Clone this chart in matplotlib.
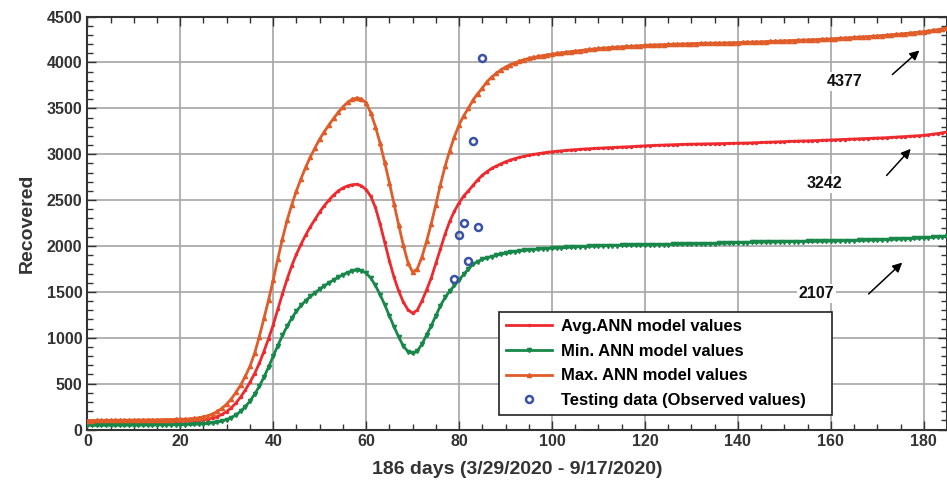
# Recovered cases: ANN model envelopes (min / avg / max) vs testing data
# 186 days, 3/29/2020 - 9/17/2020

import numpy as np
import matplotlib.pyplot as plt
from matplotlib.ticker import MultipleLocator

plt.rcParams["font.family"] = ["Liberation Sans", "DejaVu Sans"]
plt.rcParams["font.weight"] = "bold"

# Data ........................................................................

days = np.arange(186)

avg_values = [
    78, 78, 78, 79, 79, 79, 80, 80, 80, 81, 81, 82, 82, 83, 83, 84, 85, 86, 87, 88,
    89, 91, 93, 96, 100, 106, 114, 126, 142, 165, 196, 238, 290, 355, 430, 515, 610, 720, 850, 990,
    1140, 1310, 1480, 1640, 1785, 1910, 2020, 2120, 2210, 2290, 2370, 2440, 2500, 2555, 2600, 2632, 2655, 2668, 2672, 2655,
    2615, 2540, 2420, 2240, 2040, 1840, 1660, 1510, 1390, 1305, 1268, 1300, 1400, 1520, 1650, 1810, 1970, 2130, 2270, 2380,
    2470, 2545, 2600, 2660, 2720, 2770, 2810, 2845, 2870, 2895, 2918, 2936, 2952, 2966, 2978, 2989, 2998, 3006, 3014, 3021,
    3027, 3032, 3037, 3042, 3046, 3050, 3054, 3057, 3060, 3063, 3066, 3069, 3071, 3073, 3076, 3078, 3080, 3083, 3086, 3089,
    3092, 3094, 3096, 3098, 3100, 3102, 3104, 3105, 3107, 3108, 3110, 3111, 3112, 3113, 3114, 3115, 3116, 3116, 3117, 3117,
    3118, 3120, 3122, 3124, 3126, 3128, 3130, 3132, 3134, 3136, 3138, 3140, 3141, 3143, 3144, 3146, 3147, 3149, 3150, 3152,
    3154, 3156, 3158, 3160, 3162, 3164, 3166, 3168, 3170, 3172, 3174, 3177, 3180, 3183, 3186, 3189, 3192, 3195, 3198, 3202,
    3206, 3212, 3218, 3225, 3233, 3242,
]

min_values = [
    45, 45, 45, 45, 46, 46, 46, 46, 47, 47, 47, 48, 48, 48, 49, 49, 50, 50, 51, 52,
    53, 54, 55, 57, 59, 62, 66, 72, 80, 92, 108, 130, 160, 200, 250, 310, 385, 470, 570, 680,
    800, 915, 1025, 1125, 1215, 1290, 1352, 1405, 1450, 1490, 1530, 1565, 1600, 1630, 1660, 1685, 1710, 1728, 1738, 1730,
    1705, 1650, 1570, 1470, 1360, 1240, 1120, 1010, 910, 850, 830, 855, 930, 1030, 1130, 1240, 1350, 1440, 1510, 1570,
    1630, 1690, 1750, 1800, 1830, 1855, 1870, 1885, 1898, 1910, 1920, 1930, 1938, 1945, 1951, 1956, 1961, 1965, 1969, 1972,
    1975, 1978, 1981, 1984, 1987, 1990, 1992, 1994, 1996, 1998, 2000, 2002, 2003, 2004, 2005, 2006, 2007, 2008, 2009, 2010,
    2011, 2012, 2013, 2014, 2015, 2016, 2017, 2018, 2019, 2020, 2021, 2022, 2023, 2024, 2025, 2026, 2028, 2030, 2032, 2034,
    2036, 2037, 2038, 2039, 2040, 2041, 2042, 2043, 2044, 2045, 2046, 2047, 2047, 2048, 2048, 2049, 2049, 2050, 2051, 2052,
    2053, 2054, 2055, 2057, 2058, 2059, 2060, 2062, 2063, 2064, 2066, 2067, 2069, 2071, 2073, 2075, 2077, 2079, 2082, 2085,
    2088, 2091, 2094, 2098, 2102, 2107,
]

max_values = [
    98, 98, 99, 99, 100, 100, 101, 101, 102, 102, 103, 103, 104, 105, 105, 106, 107, 108, 109, 110,
    111, 113, 116, 121, 128, 138, 152, 172, 198, 232, 278, 335, 405, 485, 580, 690, 830, 1010, 1210, 1410,
    1630, 1860, 2080, 2280, 2450, 2600, 2735, 2860, 2970, 3070, 3165, 3245, 3320, 3390, 3455, 3515, 3565, 3598, 3612, 3600,
    3560, 3450, 3300, 3120, 2910, 2690, 2460, 2230, 2010, 1820, 1715, 1750, 1880, 2050, 2240, 2450, 2670, 2870, 3040, 3190,
    3320, 3420, 3500, 3590, 3660, 3720, 3790, 3840, 3880, 3920, 3950, 3975, 3995, 4015, 4030, 4045, 4055, 4065, 4075, 4083,
    4090, 4098, 4105, 4112, 4118, 4124, 4130, 4136, 4142, 4147, 4152, 4156, 4160, 4164, 4168, 4171, 4174, 4177, 4180, 4183,
    4186, 4188, 4190, 4192, 4194, 4196, 4198, 4200, 4202, 4204, 4205, 4206, 4207, 4208, 4209, 4210, 4211, 4212, 4214, 4215,
    4217, 4219, 4220, 4222, 4223, 4225, 4227, 4229, 4231, 4233, 4235, 4237, 4239, 4241, 4243, 4245, 4247, 4249, 4251, 4254,
    4257, 4260, 4263, 4266, 4269, 4272, 4275, 4278, 4281, 4285, 4289, 4293, 4297, 4301, 4305, 4310, 4315, 4320, 4325, 4330,
    4336, 4343, 4350, 4357, 4367, 4377,
]

# Observed values used for testing
test_days = [79, 80, 81, 82, 83, 84, 85]
test_values = [1640, 2117, 2249, 1840, 3147, 2205, 4050]

# Final-day labels: (text, text position, arrow tail, arrow head)
final_labels = ["4377", "3242", "2107"]
label_pos = [(163, 3793), (158.7, 2683), (156.9, 1482)]
arrow_tail = [(172.8, 3848), (171.6, 2746), (167.7, 1457)]
arrow_head = [(179.5, 4151), (177.6, 3081), (175.8, 1840)]

# Colours
c_avg = "#ee2a2e"
c_min = "#17884a"
c_max = "#e05c28"
c_test = "#3a52a6"

# Plot ........................................................................

fig = plt.figure(figsize = (9.47, 4.87), dpi = 100)
ax = fig.add_axes([0.0922, 0.118, 0.9078, 0.848])

ax.plot(days, avg_values, color = c_avg, lw = 2, marker = ".", markersize = 3, label = "Avg.ANN model values", zorder = 3)
ax.plot(days, min_values, color = c_min, lw = 2, marker = "v", markersize = 3, label = "Min. ANN model values", zorder = 3)
ax.plot(days, max_values, color = c_max, lw = 2, marker = "^", markersize = 3, label = "Max. ANN model values", zorder = 3)
ax.plot(test_days, test_values, linestyle = "none", marker = "o", markersize = 5, markerfacecolor = "none",
        markeredgecolor = c_test, markeredgewidth = 1.8, label = "Testing data (Observed values)", zorder = 4)

for txt, pos, tail, head in zip(final_labels, label_pos, arrow_tail, arrow_head):
    ax.text(pos[0], pos[1], txt, fontsize = 11.5, fontweight = "bold", ha = "center", va = "center", color = "#111111",
            bbox = dict(facecolor = "white", edgecolor = "none", pad = 1.5), zorder = 5)
    ax.annotate("", xy = head, xytext = tail,
                arrowprops = dict(arrowstyle = "-|>", color = "black", lw = 1.1, mutation_scale = 14), zorder = 5)

ax.set_xlim(0, 185)
ax.set_ylim(0, 4500)
ax.xaxis.set_major_locator(MultipleLocator(20))
ax.xaxis.set_minor_locator(MultipleLocator(5))
ax.yaxis.set_major_locator(MultipleLocator(500))
ax.yaxis.set_minor_locator(MultipleLocator(100))
ax.tick_params(which = "both", direction = "in", top = True, right = True, colors = "#333333",
               labelsize = 11.5, labelcolor = "#333333", width = 1)
ax.tick_params(which = "major", length = 6.5)
ax.tick_params(which = "minor", length = 4)
for lab in ax.get_xticklabels() + ax.get_yticklabels():
    lab.set_fontweight("bold")

for sp in ax.spines.values():
    sp.set_color("#333333")
    sp.set_linewidth(1.5)

ax.grid(True, which = "major", color = "#a6a6a6", lw = 1.2)
ax.set_axisbelow(True)

ax.set_xlabel("186 days (3/29/2020 - 9/17/2020)", fontsize = 14, fontweight = "bold", color = "#333333", labelpad = 8)
ax.set_ylabel("Recovered", fontsize = 14, fontweight = "bold", color = "#333333", labelpad = 8)

leg = ax.legend(loc = "lower left", bbox_to_anchor = (0.479, 0.036, 0.387, 0.25), mode = "expand", borderaxespad = 0,
                fontsize = 12, frameon = True, fancybox = False, edgecolor = "#222222", framealpha = 1,
                handlelength = 2.8, handletextpad = 0.5, labelspacing = 0.58, borderpad = 0.4)
leg.get_frame().set_linewidth(1.2)
leg.set_zorder(6)

fig.savefig("out.png", dpi = 100)
